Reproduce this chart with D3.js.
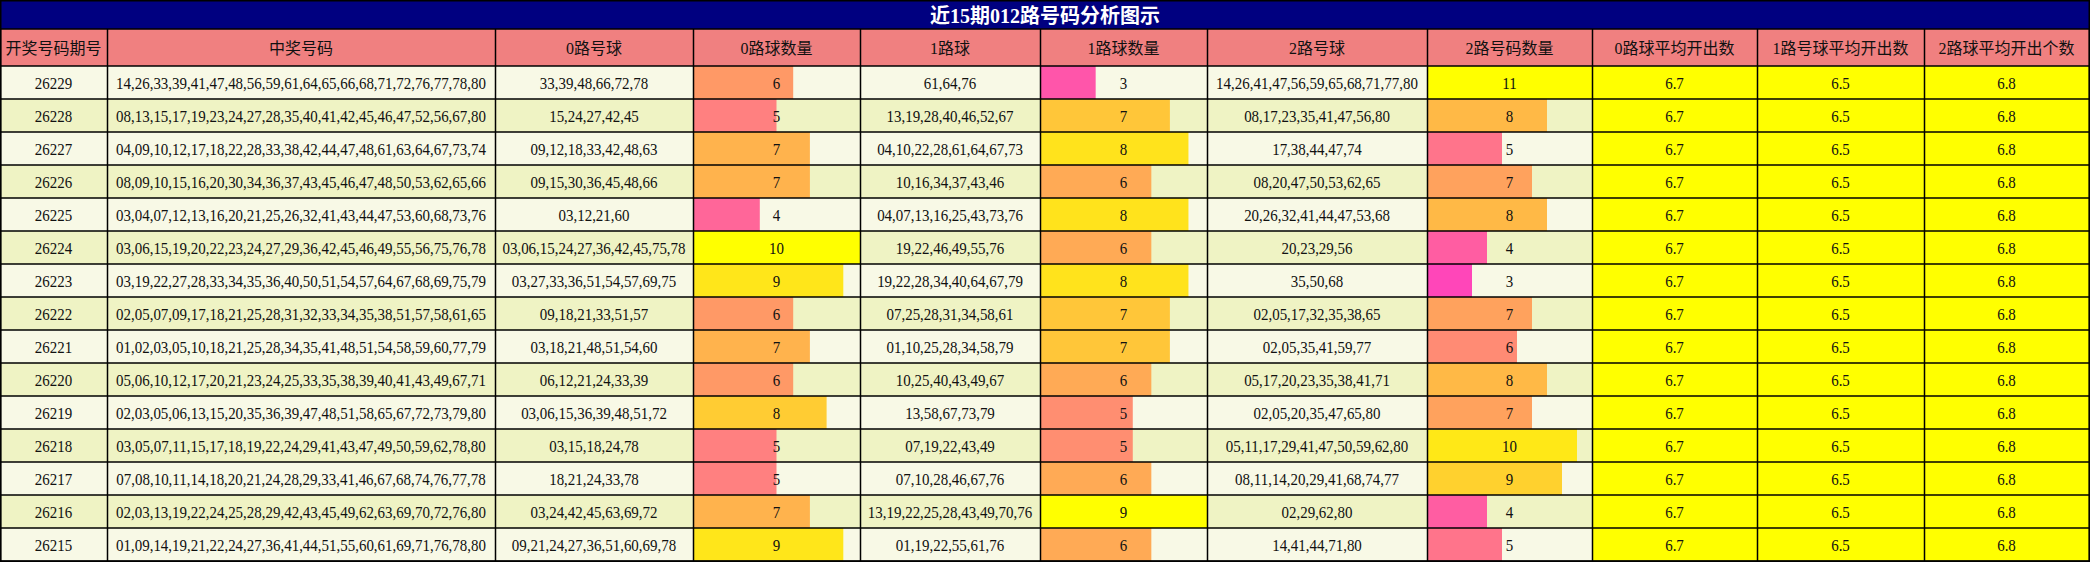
<!DOCTYPE html>
<html><head><meta charset="utf-8">
<script src="https://cdn.jsdelivr.net/npm/d3@7/dist/d3.min.js"></script>
<style>body{margin:0;background:#fff}svg{display:block}</style>
</head><body><svg id="c" width="2090" height="562"></svg>
<script>
const title = "近15期012路号码分析图示";
const headers = ["开奖号码期号","中奖号码","0路号球","0路球数量","1路球","1路球数量","2路号球","2路号码数量","0路球平均开出数","1路号球平均开出数","2路球平均开出个数"];
const periods = ["26229","26228","26227","26226","26225","26224","26223","26222","26221","26220","26219","26218","26217","26216","26215"];
const mainNums = [
"14,26,33,39,41,47,48,56,59,61,64,65,66,68,71,72,76,77,78,80",
"08,13,15,17,19,23,24,27,28,35,40,41,42,45,46,47,52,56,67,80",
"04,09,10,12,17,18,22,28,33,38,42,44,47,48,61,63,64,67,73,74",
"08,09,10,15,16,20,30,34,36,37,43,45,46,47,48,50,53,62,65,66",
"03,04,07,12,13,16,20,21,25,26,32,41,43,44,47,53,60,68,73,76",
"03,06,15,19,20,22,23,24,27,29,36,42,45,46,49,55,56,75,76,78",
"03,19,22,27,28,33,34,35,36,40,50,51,54,57,64,67,68,69,75,79",
"02,05,07,09,17,18,21,25,28,31,32,33,34,35,38,51,57,58,61,65",
"01,02,03,05,10,18,21,25,28,34,35,41,48,51,54,58,59,60,77,79",
"05,06,10,12,17,20,21,23,24,25,33,35,38,39,40,41,43,49,67,71",
"02,03,05,06,13,15,20,35,36,39,47,48,51,58,65,67,72,73,79,80",
"03,05,07,11,15,17,18,19,22,24,29,41,43,47,49,50,59,62,78,80",
"07,08,10,11,14,18,20,21,24,28,29,33,41,46,67,68,74,76,77,78",
"02,03,13,19,22,24,25,28,29,42,43,45,49,62,63,69,70,72,76,80",
"01,09,14,19,21,22,24,27,36,41,44,51,55,60,61,69,71,76,78,80"];
const road0 = ["33,39,48,66,72,78","15,24,27,42,45","09,12,18,33,42,48,63","09,15,30,36,45,48,66","03,12,21,60","03,06,15,24,27,36,42,45,75,78","03,27,33,36,51,54,57,69,75","09,18,21,33,51,57","03,18,21,48,51,54,60","06,12,21,24,33,39","03,06,15,36,39,48,51,72","03,15,18,24,78","18,21,24,33,78","03,24,42,45,63,69,72","09,21,24,27,36,51,60,69,78"];
const count0 = [6,5,7,7,4,10,9,6,7,6,8,5,5,7,9];
const road1 = ["61,64,76","13,19,28,40,46,52,67","04,10,22,28,61,64,67,73","10,16,34,37,43,46","04,07,13,16,25,43,73,76","19,22,46,49,55,76","19,22,28,34,40,64,67,79","07,25,28,31,34,58,61","01,10,25,28,34,58,79","10,25,40,43,49,67","13,58,67,73,79","07,19,22,43,49","07,10,28,46,67,76","13,19,22,25,28,43,49,70,76","01,19,22,55,61,76"];
const count1 = [3,7,8,6,8,6,8,7,7,6,5,5,6,9,6];
const road2 = ["14,26,41,47,56,59,65,68,71,77,80","08,17,23,35,41,47,56,80","17,38,44,47,74","08,20,47,50,53,62,65","20,26,32,41,44,47,53,68","20,23,29,56","35,50,68","02,05,17,32,35,38,65","02,05,35,41,59,77","05,17,20,23,35,38,41,71","02,05,20,35,47,65,80","05,11,17,29,41,47,50,59,62,80","08,11,14,20,29,41,68,74,77","02,29,62,80","14,41,44,71,80"];
const count2 = [11,8,5,7,8,4,3,7,6,8,7,10,9,4,5];
const avg0 = "6.7", avg1 = "6.5", avg2 = "6.8";

const W=2090,H=562, titleH=29, headH=37;
const colEdges=[0,107,495,693,860,1040,1207,1427,1592,1757,1924,2089];
const svg=d3.select("#c");
const font="'Liberation Serif','Noto Sans CJK SC',serif";
const y=d3.scaleBand().domain(periods).range([titleH+headH,H-1]);

svg.append("rect").attr("x",0).attr("y",0).attr("width",W).attr("height",titleH).attr("fill","#000080");
svg.append("text").attr("x",W/2).attr("y",titleH/2+1).attr("text-anchor","middle").attr("dominant-baseline","central")
 .attr("fill","#fff").attr("font-weight","bold").attr("font-size",20).attr("font-family",font).text(title);

// header
headers.forEach((h,i)=>{
  svg.append("rect").attr("x",colEdges[i]).attr("y",titleH).attr("width",colEdges[i+1]-colEdges[i]).attr("height",headH).attr("fill","#f08080");
  svg.append("text").attr("x",(colEdges[i]+colEdges[i+1])/2).attr("y",titleH+headH/2+1).attr("text-anchor","middle").attr("dominant-baseline","central")
   .attr("font-size",16).attr("font-family",font).attr("fill","#111").text(h);
});

const rowBg=(i)=>i%2===0?"#f8f9e6":"#eff3c4";
const textCols=[periods,mainNums,road0,null,road1,null,road2,null];
const counts={3:count0,5:count1,7:count2};
const colorOf=d3.interpolateRgb("#ff00ff","#ffff00");

periods.forEach((p,r)=>{
  const y0=y(p), h=y.bandwidth();
  for(let c=0;c<11;c++){
    const x0=colEdges[c], w=colEdges[c+1]-x0;
    svg.append("rect").attr("x",x0).attr("y",y0).attr("width",w).attr("height",h).attr("fill",c>=8?"#ffff00":rowBg(r));
    let txt;
    if(counts[c]){
      const arr=counts[c], mx=d3.max(arr);
      const xs=d3.scaleLinear().domain([0,mx]).range([0,w]);
      svg.append("rect").attr("x",x0).attr("y",y0).attr("width",xs(arr[r])).attr("height",h).attr("fill",colorOf(arr[r]/mx));
      txt=String(arr[r]);
    } else if(c<8) txt=textCols[c][r];
    else txt=[avg0,avg1,avg2][c-8];
    const cx=(x0+x0+w)/2, cy=y0+h/2+1;
    svg.append("text").attr("transform",`translate(${cx},${cy}) scale(0.88,1)`).attr("text-anchor","middle").attr("dominant-baseline","central")
      .attr("font-size",17).attr("font-family",font).attr("fill","#111").text(txt);
  }
});

// grid lines
const g=svg.append("g").attr("stroke","#000").attr("stroke-width",1.5);
colEdges.forEach(x=>g.append("line").attr("x1",x+0.5).attr("x2",x+0.5).attr("y1",titleH).attr("y2",H));
[titleH,titleH+headH,...periods.map(p=>y(p)+y.bandwidth())].forEach(yy=>g.append("line").attr("x1",0).attr("x2",W).attr("y1",yy).attr("y2",yy));
g.append("rect").attr("x",0.75).attr("y",0.75).attr("width",W-1.5).attr("height",H-1.5).attr("fill","none");
</script></body></html>
